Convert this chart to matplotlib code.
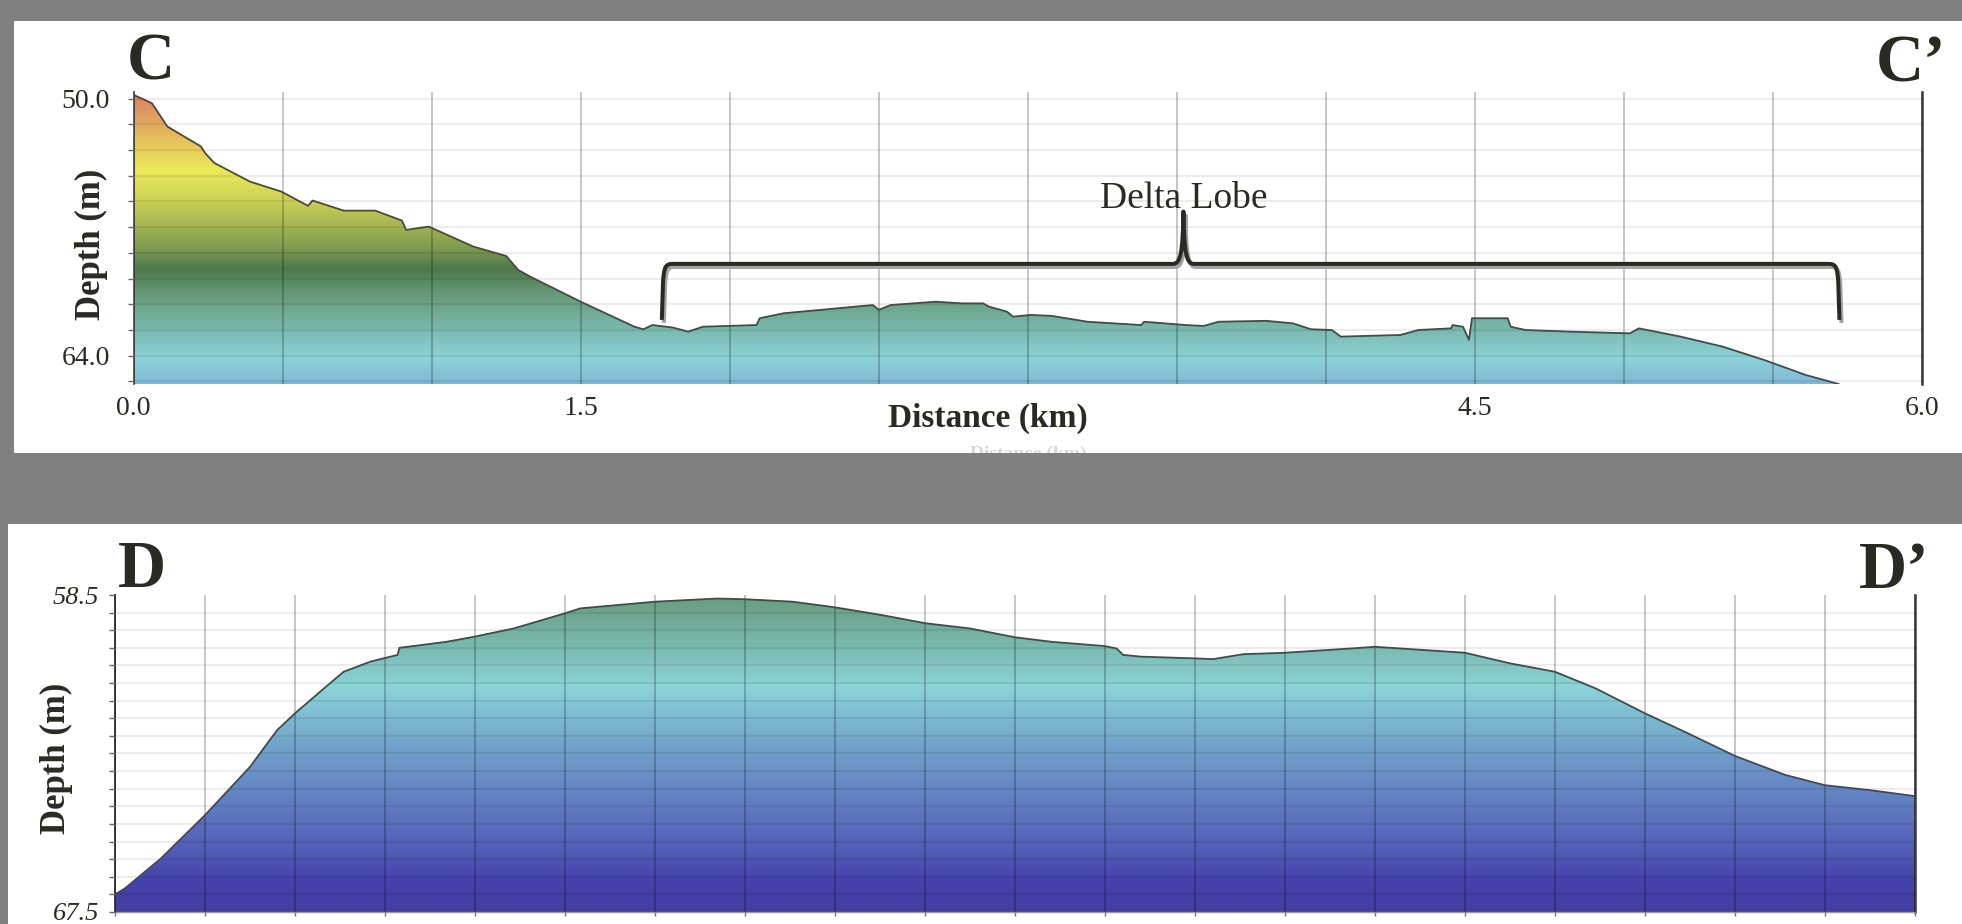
import matplotlib
matplotlib.use("Agg")
import matplotlib.pyplot as plt
import numpy as np
from matplotlib.colors import LinearSegmentedColormap, Normalize
from matplotlib.patches import Polygon, Rectangle, PathPatch
from matplotlib.path import Path
from matplotlib.transforms import ScaledTranslation

# profile C - C' (distance in km, depth in m)
c_dist = [0.0, 0.061, 0.113, 0.225, 0.24, 0.27, 0.39, 0.495, 0.585, 0.6, 0.705, 0.81,
          0.9, 0.914, 0.99, 1.14, 1.25, 1.29, 1.33, 1.5, 1.68, 1.71, 1.74, 1.81, 1.86,
          1.91, 2.09, 2.10, 2.18, 2.30, 2.48, 2.50, 2.54, 2.69, 2.78, 2.85, 2.87, 2.93,
          2.95, 3.01, 3.08, 3.20, 3.38, 3.39, 3.53, 3.59, 3.64, 3.80, 3.89, 3.95, 4.02,
          4.05, 4.25, 4.31, 4.42, 4.425, 4.46, 4.48, 4.49, 4.61, 4.62, 4.67, 4.82, 5.02,
          5.05, 5.19, 5.33, 5.47, 5.61, 5.72]
c_depth = [49.8, 50.25, 51.52, 52.6, 52.97, 53.5, 54.52, 55.06, 55.84, 55.55, 56.1, 56.1,
           56.64, 57.15, 56.97, 58.06, 58.57, 59.33, 59.69, 61.06, 62.42, 62.56, 62.33, 62.47, 62.69,
           62.42, 62.33, 61.96, 61.69, 61.51, 61.24, 61.5, 61.24, 61.06, 61.15, 61.15, 61.33, 61.6,
           61.87, 61.78, 61.83, 62.15, 62.33, 62.15, 62.33, 62.38, 62.15, 62.1, 62.24, 62.56, 62.6,
           62.96, 62.87, 62.6, 62.51, 62.33, 62.42, 63.14, 61.96, 61.96, 62.42, 62.6, 62.69, 62.78,
           62.51, 62.96, 63.5, 64.23, 65.05, 65.54]

# profile D - D'
d_dist = [0.0, 0.022, 0.102, 0.2, 0.3, 0.36, 0.4, 0.46, 0.508, 0.568, 0.628, 0.632, 0.736,
          0.8, 0.886, 1.0, 1.034, 1.2, 1.338, 1.4, 1.506, 1.6, 1.704, 1.8, 1.9, 2.0, 2.082,
          2.2, 2.226, 2.24, 2.28, 2.4, 2.44, 2.508, 2.6, 2.744, 2.8, 3.0, 3.1, 3.2, 3.29,
          3.4, 3.496, 3.6, 3.712, 3.8, 3.9, 4.0]
d_depth = [67.0, 66.83, 65.98, 64.75, 63.38, 62.34, 61.86, 61.2, 60.68, 60.39, 60.2, 60.0, 59.83,
           59.68, 59.45, 59.02, 58.88, 58.69, 58.6, 58.62, 58.69, 58.85, 59.07, 59.3, 59.45, 59.7, 59.83,
           59.95, 60.02, 60.2, 60.25, 60.3, 60.32, 60.18, 60.14, 60.02, 59.97, 60.14, 60.44, 60.68, 61.15,
           61.86, 62.43, 63.07, 63.61, 63.9, 64.04, 64.21]

# colour ramps (depth -> colour)
c_stops = [49.64, 50.9, 52.25, 53.9, 55.5, 56.9, 58.25, 59.3, 60.7, 62.05, 63.4, 64.2, 65.54]
c_colors = ['#d57f66', '#df9d62', '#e6c05d', '#ece959', '#cdd256', '#a6b552', '#7a9950',
            '#4e784c', '#679a78', '#75b09f', '#84c6c4', '#8dd3da', '#80b8d4']
d_stops = [58.5, 59.78, 61.11, 61.97, 62.9, 64.04, 64.98, 65.94, 66.68, 67.5]
d_colors = ['#689c7e', '#78b6a9', '#8dd4da', '#7dbad0', '#70a0c9', '#6586c3', '#5b70bd',
            '#4f58b3', '#4341aa', '#463ea3']

c_xticks = np.arange(0, 6.01, 0.5)
c_xlabels = {0.0: '0.0', 1.5: '1.5', 4.5: '4.5', 6.0: '6.0'}
c_yticks = 50 + 1.4 * np.arange(12)
c_ylabels = {0: '50.0', 10: '64.0'}
d_xticks = np.arange(0, 4.01, 0.2)
d_yticks = np.arange(58.5, 67.51, 0.5)
d_ylabels = {0: '58.5', 18: '67.5'}

# brace over the delta lobe (km, m)
lobe_left, lobe_right, lobe_mid = 1.772, 5.723, 3.522
lobe_line, lobe_tip, lobe_peak = 59.0, 62.05, 56.15

TXT = '#2b2a22'
SERIF = ['Liberation Serif', 'DejaVu Serif']


def gradient_fill(ax, x, y, y_bottom, stops, colors):
    lo, hi = stops[0], stops[-1]
    pos = [(s - lo) / (hi - lo) for s in stops]
    cmap = LinearSegmentedColormap.from_list('depth', list(zip(pos, colors)))
    grad = np.linspace(lo, hi, 500).reshape(-1, 1)
    im = ax.imshow(grad, cmap=cmap, norm=Normalize(lo, hi), aspect='auto',
                   extent=[min(x), max(x), hi, lo], origin='upper', zorder=1,
                   interpolation='bilinear')
    verts = list(zip(x, y)) + [(x[-1], y_bottom), (x[0], y_bottom)]
    clip = Polygon(verts, closed=True, facecolor='none', edgecolor='none')
    ax.add_patch(clip)
    im.set_clip_path(clip)
    ax.plot(x, y, color='#484848', lw=1.3, zorder=3)


def style_grid(ax):
    ax.set_axisbelow(False)
    ax.grid(True, axis='x', color='k', alpha=0.22, lw=1.4)
    ax.grid(True, axis='y', color='k', alpha=0.075, lw=1.5)


fig = plt.figure(figsize=(19.62, 9.24), dpi=100, facecolor='#808080')

# white panels
top_panel = Rectangle((14 / 1962, 1 - 453 / 924), 1, 432 / 924, transform=fig.transFigure,
                      facecolor='white', edgecolor='none', zorder=-10)
bot_panel = Rectangle((8 / 1962, 0), 1, 400 / 924, transform=fig.transFigure,
                      facecolor='white', edgecolor='none', zorder=-10)
fig.add_artist(top_panel)
fig.add_artist(bot_panel)

# ---- C - C' ----
ax1 = fig.add_axes([0.06814, 0.58442, 0.91147, 0.31602])
ax1.set_facecolor('none')
gradient_fill(ax1, c_dist, c_depth, 65.54, c_stops, c_colors)
ax1.set_xlim(0, 6.0)
ax1.set_ylim(65.54, 49.64)
style_grid(ax1)
ax1.set_xticks(c_xticks)
ax1.set_xticklabels([c_xlabels.get(round(t, 1), '') for t in c_xticks])
ax1.set_yticks(c_yticks)
ax1.set_yticklabels([c_ylabels.get(i, '') for i in range(len(c_yticks))])
ax1.tick_params(axis='x', length=0, pad=9, labelsize=20, labelcolor=TXT)
ax1.tick_params(axis='y', length=4.3, width=1, color='#666666', direction='out',
                pad=13, labelsize=20, labelcolor=TXT)
for lab in ax1.get_xticklabels() + ax1.get_yticklabels():
    lab.set_family(SERIF)
for s in ['top', 'bottom']:
    ax1.spines[s].set_visible(False)
ax1.spines['left'].set_color('#444444')
ax1.spines['left'].set_linewidth(1.2)
ax1.spines['right'].set_color('#3a3a3a')
ax1.spines['right'].set_linewidth(1.8)

# brace
verts = [
    (lobe_left, lobe_tip),
    (lobe_left + 0.004, lobe_line + 1.0),
    (lobe_left + 0.007, lobe_line + 0.2), (lobe_left + 0.012, lobe_line), (lobe_left + 0.035, lobe_line),
    (lobe_mid - 0.035, lobe_line),
    (lobe_mid - 0.01, lobe_line), (lobe_mid - 0.002, lobe_line - 0.6), (lobe_mid, lobe_peak),
    (lobe_mid + 0.002, lobe_line - 0.6), (lobe_mid + 0.01, lobe_line), (lobe_mid + 0.035, lobe_line),
    (lobe_right - 0.035, lobe_line),
    (lobe_right - 0.012, lobe_line), (lobe_right - 0.007, lobe_line + 0.2), (lobe_right - 0.004, lobe_line + 1.0),
    (lobe_right, lobe_tip),
]
codes = [Path.MOVETO, Path.LINETO,
         Path.CURVE4, Path.CURVE4, Path.CURVE4,
         Path.LINETO,
         Path.CURVE4, Path.CURVE4, Path.CURVE4,
         Path.CURVE4, Path.CURVE4, Path.CURVE4,
         Path.LINETO,
         Path.CURVE4, Path.CURVE4, Path.CURVE4,
         Path.LINETO]
brace = Path(verts, codes)
shadow = PathPatch(brace, fill=False, lw=3.0, edgecolor='#a3a3a3', zorder=4,
                   transform=ax1.transData + ScaledTranslation(0.02, -0.03, fig.dpi_scale_trans))
ax1.add_patch(shadow)
ax1.add_patch(PathPatch(brace, fill=False, lw=2.9, edgecolor=TXT, zorder=5, joinstyle='round'))
ax1.text(lobe_mid, 55.95, 'Delta Lobe', ha='center', va='baseline', fontsize=27,
         family=SERIF, color=TXT, zorder=6)

# ---- D - D' ----
ax2 = fig.add_axes([0.05861, 0.01299, 0.91743, 0.34307])
ax2.set_facecolor('none')
gradient_fill(ax2, d_dist, d_depth, 67.5, d_stops, d_colors)
ax2.set_xlim(0, 4.0)
ax2.set_ylim(67.5, 58.5)
style_grid(ax2)
ax2.set_xticks(d_xticks)
ax2.set_xticklabels([])
ax2.set_yticks(d_yticks)
ax2.set_yticklabels([d_ylabels.get(i, '') for i in range(len(d_yticks))])
ax2.yaxis.get_gridlines()[0].set_visible(False)
ax2.tick_params(axis='x', length=3, width=1, color='#777777', direction='out')
ax2.tick_params(axis='y', length=4.3, width=1, color='#666666', direction='out',
                pad=7, labelsize=19, labelcolor=TXT)
for lab in ax2.get_yticklabels():
    lab.set_family(SERIF)
    lab.set_style('italic')
ax2.spines['top'].set_visible(False)
ax2.spines['bottom'].set_color('#9a9a9a')
ax2.spines['bottom'].set_linewidth(1.0)
ax2.spines['left'].set_color('#3a3a3a')
ax2.spines['left'].set_linewidth(1.4)
ax2.spines['right'].set_color('#3a3a3a')
ax2.spines['right'].set_linewidth(1.8)

# labels
big = dict(fontsize=48, fontweight='bold', family=SERIF, color=TXT, va='baseline')
fig.text(127 / 1962, 1 - 80 / 924, 'C', ha='left', **big)
fig.text(1946 / 1962, 1 - 82 / 924, 'C\u2019', ha='right', **big)
fig.text(118 / 1962, 1 - 587 / 924, 'D', ha='left', **big)
fig.text(1929 / 1962, 1 - 588 / 924, 'D\u2019', ha='right', **big)

lab = dict(fontweight='bold', family=SERIF, color=TXT, ha='center', va='center')
fig.text(91 / 1962, 1 - 244 / 924, 'Depth (m)', rotation=90, fontsize=25, **lab)
fig.text(56 / 1962, 1 - 758 / 924, 'Depth (m)', rotation=90, fontsize=25, **lab)
fig.text(988 / 1962, 1 - 418 / 924, 'Distance (km)', fontsize=24, **lab)
ghost = fig.text(1028 / 1962, 1 - 446 / 924, 'Distance (km)', fontsize=14, fontweight='bold',
                 family=SERIF, color='#d6d6d6', ha='center', va='top')
ghost.set_clip_path(top_panel)

fig.savefig('out.png', dpi=100, facecolor=fig.get_facecolor())
